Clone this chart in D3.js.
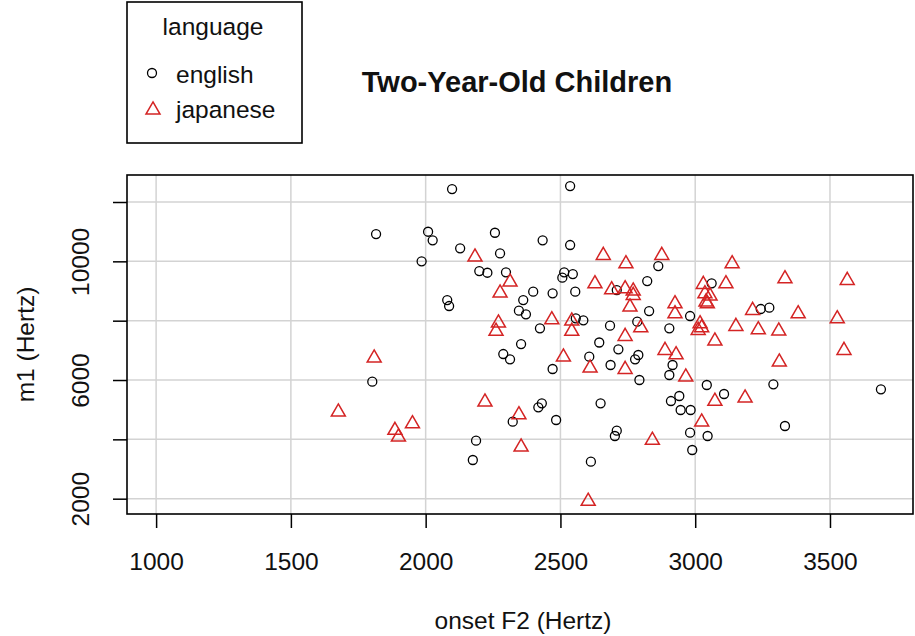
<!DOCTYPE html>
<html>
<head>
<meta charset="utf-8">
<script src="https://cdn.jsdelivr.net/npm/d3@7"></script>
<style>
  body { margin: 0; background: #fff; }
  svg text { font-family: "Liberation Sans", Arial, sans-serif; fill: #111; }
</style>
</head>
<body>
<svg id="chart" width="915" height="636"></svg>
<script>
// onset F2 (Hz) and m1 (Hz)
const englishF2 = [2098, 2536, 1816, 2009, 2026, 2257, 2434, 2536, 2128, 2276, 1985, 2199, 2229, 2298, 2514,
  2546, 2507, 2080, 2087, 2399, 2471, 2555, 2362, 2346, 2372, 2424, 2585, 2557, 2684, 2709, 2354, 2644, 2863,
  2822, 3061, 2829, 2981, 2785, 2904, 3243, 3275, 2288, 2313, 2471, 2607, 2715, 2686, 1802, 2431, 2418, 2323,
  2484, 2649, 2709, 2702, 2187, 2175, 2613, 2789, 2777, 2916, 2904, 2793, 3043, 3107, 3290, 3689, 2941, 2910,
  2946, 2983, 3333, 2981, 3046, 2989];
const englishM1 = [12437, 12538, 10920, 10998, 10708, 10964, 10708, 10550, 10438, 10270, 10000, 9673, 9616, 9630, 9630,
  9572, 9448, 8696, 8494, 8976, 8922, 8976, 8696, 8336, 8214, 7742, 8012, 8079, 7830, 9033, 7213, 7264, 9842,
  9336, 9259, 8325, 8157, 7965, 7742, 8393, 8437, 6876, 6698, 6371, 6785, 7035, 6506, 5943, 5215, 5080, 4595,
  4652, 5215, 4292, 4113, 3955, 3304, 3247, 6843, 6698, 6506, 6169, 6000, 5832, 5528, 5855, 5687, 5461, 5292,
  4989, 4989, 4450, 4224, 4113, 3641];
const japaneseF2 = [2183, 2659, 2743, 2313, 2276, 2628, 2690, 2740, 2468, 2270, 2261, 2542, 2542, 2758, 2740,
  2876, 3137, 3333, 3564, 2770, 2770, 3030, 3114, 3036, 3055, 3040, 3045, 2925, 2925, 3213, 3382, 3527, 2798,
  3018, 3024, 3011, 3151, 3234, 3310, 3073, 2888, 3552, 2929, 2740, 2965, 3312, 3073, 3185, 3024, 2841, 1809,
  1676, 2511, 2610, 2220, 2346, 1886, 1899, 1951, 2354, 2603];
const japaneseM1 = [10213, 10270, 9987, 9370, 9000, 9313, 9111, 9144, 8100, 7988, 7709, 8056, 7709, 8528, 7540,
  10270, 9987, 9481, 9427, 9067, 8922, 9293, 9313, 8976, 8898, 8696, 8639, 8639, 8302, 8416, 8302, 8133, 7830,
  7965, 7830, 7742, 7877, 7763, 7719, 7382, 7068, 7068, 6920, 6428, 6169, 6674, 5350, 5461, 4652, 4035, 6809,
  4989, 6843, 6472, 5326, 4898, 4372, 4147, 4595, 3810, 1980];

const xTicks = [1000, 1500, 2000, 2500, 3000, 3500];
const yTicks = [2000, 4000, 6000, 8000, 10000, 12000];
const yTickLabels = [2000, 6000, 10000];
const xLim = [1000, 3700];
const yLim = [1907, 12487];
const languages = ["english", "japanese"];

const red = "#d42424";
const fontSize = 24.5;
const svg = d3.select("#chart");
const plot = { left: 127, right: 913, top: 175, bottom: 514 };

// R style 4% padding on both sides
const pad = (lim) => {
  const d = (lim[1] - lim[0]) * 0.04;
  return [lim[0] - d, lim[1] + d];
};
const x = d3.scaleLinear(pad(xLim), [plot.left, plot.right]);
const y = d3.scaleLinear(pad(yLim), [plot.bottom, plot.top]);

// grid
const grid = svg.append("g").attr("stroke", "#d3d3d3").attr("stroke-width", 1.5);
grid.selectAll("line.v").data(xTicks).join("line")
  .attr("x1", (d) => x(d)).attr("x2", (d) => x(d))
  .attr("y1", plot.top).attr("y2", plot.bottom);
grid.selectAll("line.h").data(yTicks).join("line")
  .attr("y1", (d) => y(d)).attr("y2", (d) => y(d))
  .attr("x1", plot.left).attr("x2", plot.right);

// axes
const xAxis = svg.append("g")
  .attr("transform", `translate(0,${plot.bottom})`)
  .call(d3.axisBottom(x).tickValues(xTicks).tickSize(14).tickSizeOuter(0).tickFormat(d3.format("d")));
xAxis.select(".domain").remove();
xAxis.selectAll(".tick line").attr("stroke", "#000").attr("stroke-width", 1.5);
xAxis.selectAll(".tick text")
  .attr("y", 56).attr("dy", 0)
  .attr("font-size", fontSize).attr("fill", "#111");

const yAxis = svg.append("g")
  .attr("transform", `translate(${plot.left},0)`)
  .call(d3.axisLeft(y).tickValues(yTicks).tickSize(14).tickSizeOuter(0)
    .tickFormat((d) => (yTickLabels.includes(d) ? d : "")));
yAxis.select(".domain").remove();
yAxis.selectAll(".tick line").attr("stroke", "#000").attr("stroke-width", 1.5);
yAxis.selectAll(".tick text")
  .attr("transform", "rotate(-90)")
  .attr("x", 0).attr("y", -38).attr("dy", 0)
  .attr("text-anchor", "middle")
  .attr("font-size", fontSize).attr("fill", "#111");

// box
svg.append("rect")
  .attr("x", plot.left).attr("y", plot.top)
  .attr("width", plot.right - plot.left).attr("height", plot.bottom - plot.top)
  .attr("fill", "none").attr("stroke", "#000").attr("stroke-width", 1.6);

// points
const triangle = (cx, cy, s = 14) => {
  const h = s * 0.866;
  return `M${cx},${cy - h / 2}L${cx + s / 2},${cy + h / 2}L${cx - s / 2},${cy + h / 2}Z`;
};
const pts = svg.append("g");
pts.selectAll("circle").data(d3.zip(englishF2, englishM1)).join("circle")
  .attr("cx", (d) => x(d[0])).attr("cy", (d) => y(d[1])).attr("r", 4.5)
  .attr("fill", "none").attr("stroke", "#000").attr("stroke-width", 1.3);
pts.selectAll("path").data(d3.zip(japaneseF2, japaneseM1)).join("path")
  .attr("d", (d) => triangle(x(d[0]), y(d[1])))
  .attr("fill", "none").attr("stroke", red).attr("stroke-width", 1.5);

// labels
svg.append("text").attr("x", 517).attr("y", 92).attr("text-anchor", "middle")
  .attr("font-size", 29).attr("font-weight", "bold").text("Two-Year-Old Children");
svg.append("text").attr("x", 523).attr("y", 629).attr("text-anchor", "middle")
  .attr("font-size", fontSize).text("onset F2 (Hertz)");
svg.append("text").attr("transform", `translate(34,${(plot.top + plot.bottom) / 2}) rotate(-90)`)
  .attr("text-anchor", "middle").attr("font-size", fontSize).text("m1 (Hertz)");

// legend
const legend = svg.append("g");
legend.append("rect").attr("x", 127).attr("y", 2).attr("width", 175).attr("height", 141)
  .attr("fill", "#fff").attr("stroke", "#000").attr("stroke-width", 1.6);
legend.append("text").attr("x", 213).attr("y", 35).attr("text-anchor", "middle")
  .attr("font-size", fontSize).text("language");
const rows = legend.selectAll("g.row").data(languages).join("g")
  .attr("transform", (d, i) => `translate(0,${73 + i * 35})`);
rows.append("text").attr("x", 176).attr("y", 10).attr("font-size", fontSize).text((d) => d);
rows.filter((d) => d === "english").append("circle")
  .attr("cx", 152).attr("cy", 0).attr("r", 4.5)
  .attr("fill", "none").attr("stroke", "#000").attr("stroke-width", 1.3);
rows.filter((d) => d === "japanese").append("path")
  .attr("d", triangle(153, 0))
  .attr("fill", "none").attr("stroke", red).attr("stroke-width", 1.5);
</script>
</body>
</html>
